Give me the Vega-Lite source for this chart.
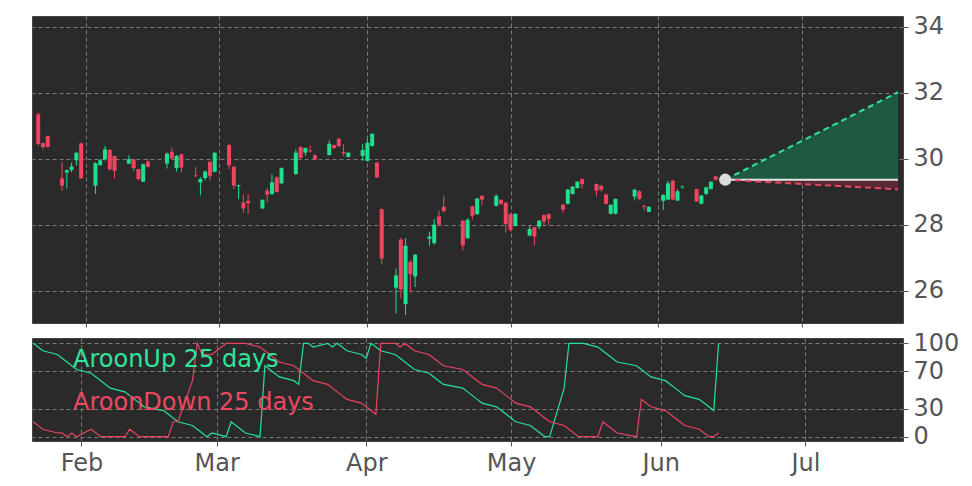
{
  "$schema": "https://vega.github.io/schema/vega-lite/v6.json",
  "background": "white",
  "padding": {"left": 31, "top": 14, "right": 0, "bottom": 0},
  "autosize": {"type": "pad"},
  "bounds": "flush",
  "spacing": 15,
  "config": {
    "view": {"fill": "#2a2a2a", "stroke": "#444", "strokeWidth": 1},
    "axis": {
      "labelFont": "DejaVu Sans", "labelFontSize": 24, "labelColor": "#555",
      "tickColor": "#555", "tickSize": 5, "domain": false, "labelOverlap": false,
      "gridColor": "#9a9a9a", "gridDash": [4, 3], "gridWidth": 0.8, "gridOpacity": 0.9
    }
  },
  "datasets": {
    "ohlc": [
      {"date": "2025-01-22", "o": 31.35, "h": 31.4, "l": 30.4, "c": 30.45},
      {"date": "2025-01-23", "o": 30.48, "h": 30.5, "l": 30.28, "c": 30.36},
      {"date": "2025-01-24", "o": 30.69, "h": 30.7, "l": 30.35, "c": 30.36},
      {"date": "2025-01-27", "o": 29.41, "h": 29.9, "l": 29.03, "c": 29.19},
      {"date": "2025-01-28", "o": 29.59, "h": 29.68, "l": 29.1, "c": 29.66},
      {"date": "2025-01-29", "o": 29.67, "h": 29.89, "l": 29.6, "c": 29.77},
      {"date": "2025-01-30", "o": 29.96, "h": 30.2, "l": 29.8, "c": 30.19},
      {"date": "2025-01-31", "o": 30.47, "h": 30.5, "l": 29.4, "c": 29.41},
      {"date": "2025-02-03", "o": 29.19, "h": 29.9, "l": 28.94, "c": 29.87},
      {"date": "2025-02-04", "o": 29.81, "h": 30.0, "l": 29.8, "c": 29.96},
      {"date": "2025-02-05", "o": 29.99, "h": 30.39, "l": 29.95, "c": 30.29},
      {"date": "2025-02-06", "o": 30.27, "h": 30.3, "l": 29.65, "c": 29.69},
      {"date": "2025-02-07", "o": 30.09, "h": 30.1, "l": 29.41, "c": 29.64},
      {"date": "2025-02-10", "o": 29.86, "h": 30.11, "l": 29.85, "c": 29.99},
      {"date": "2025-02-11", "o": 29.99, "h": 30.0, "l": 29.62, "c": 29.72},
      {"date": "2025-02-12", "o": 29.69, "h": 29.7, "l": 29.35, "c": 29.39},
      {"date": "2025-02-13", "o": 29.31, "h": 29.86, "l": 29.3, "c": 29.84},
      {"date": "2025-02-14", "o": 29.92, "h": 30.01, "l": 29.74, "c": 29.76},
      {"date": "2025-02-18", "o": 29.86, "h": 30.2, "l": 29.71, "c": 30.16},
      {"date": "2025-02-19", "o": 30.22, "h": 30.34, "l": 30.0, "c": 30.02},
      {"date": "2025-02-20", "o": 29.72, "h": 30.12, "l": 29.62, "c": 30.09},
      {"date": "2025-02-21", "o": 30.14, "h": 30.16, "l": 29.59, "c": 29.74},
      {"date": "2025-02-24", "o": 29.5, "h": 29.75, "l": 29.45, "c": 29.48},
      {"date": "2025-02-25", "o": 29.29, "h": 29.45, "l": 28.9, "c": 29.39},
      {"date": "2025-02-26", "o": 29.42, "h": 29.65, "l": 29.35, "c": 29.62},
      {"date": "2025-02-27", "o": 29.91, "h": 29.95, "l": 29.34, "c": 29.49},
      {"date": "2025-02-28", "o": 29.61, "h": 30.2, "l": 29.6, "c": 30.19},
      {"date": "2025-03-03", "o": 30.42, "h": 30.45, "l": 29.69, "c": 29.81},
      {"date": "2025-03-04", "o": 29.76, "h": 29.8, "l": 29.09, "c": 29.19},
      {"date": "2025-03-05", "o": 29.17, "h": 29.22, "l": 28.79, "c": 29.2},
      {"date": "2025-03-06", "o": 28.68, "h": 28.92, "l": 28.37, "c": 28.5},
      {"date": "2025-03-07", "o": 28.73, "h": 28.94, "l": 28.33, "c": 28.66},
      {"date": "2025-03-10", "o": 28.5, "h": 28.78, "l": 28.48, "c": 28.76},
      {"date": "2025-03-11", "o": 29.04, "h": 29.12, "l": 28.67, "c": 28.92},
      {"date": "2025-03-12", "o": 28.94, "h": 29.54, "l": 28.9, "c": 29.29},
      {"date": "2025-03-13", "o": 29.44, "h": 29.47, "l": 28.98, "c": 29.0},
      {"date": "2025-03-14", "o": 29.26, "h": 29.75, "l": 29.23, "c": 29.72},
      {"date": "2025-03-17", "o": 29.54, "h": 30.29, "l": 29.52, "c": 30.19},
      {"date": "2025-03-18", "o": 30.36, "h": 30.38, "l": 30.0, "c": 30.03},
      {"date": "2025-03-19", "o": 30.19, "h": 30.35, "l": 30.09, "c": 30.33},
      {"date": "2025-03-20", "o": 30.26, "h": 30.41, "l": 30.19, "c": 30.23},
      {"date": "2025-03-21", "o": 30.11, "h": 30.16, "l": 29.97, "c": 29.98},
      {"date": "2025-03-24", "o": 30.12, "h": 30.56, "l": 30.1, "c": 30.46},
      {"date": "2025-03-25", "o": 30.42, "h": 30.44, "l": 30.3, "c": 30.33},
      {"date": "2025-03-26", "o": 30.61, "h": 30.64, "l": 30.36, "c": 30.39},
      {"date": "2025-03-27", "o": 30.21, "h": 30.45, "l": 30.09, "c": 30.17},
      {"date": "2025-03-28", "o": 30.06, "h": 30.2, "l": 30.05, "c": 30.19},
      {"date": "2025-03-31", "o": 30.09, "h": 30.45, "l": 29.94, "c": 30.27},
      {"date": "2025-04-01", "o": 29.94, "h": 30.62, "l": 29.92, "c": 30.49},
      {"date": "2025-04-02", "o": 30.39, "h": 30.78, "l": 30.38, "c": 30.76},
      {"date": "2025-04-03", "o": 29.89, "h": 29.9, "l": 29.42, "c": 29.44},
      {"date": "2025-04-04", "o": 28.48, "h": 28.5, "l": 26.8, "c": 26.98},
      {"date": "2025-04-07", "o": 26.1, "h": 26.68, "l": 25.32, "c": 26.47},
      {"date": "2025-04-08", "o": 27.56, "h": 27.6, "l": 25.78, "c": 26.05},
      {"date": "2025-04-09", "o": 25.6, "h": 27.6, "l": 25.27, "c": 27.37},
      {"date": "2025-04-10", "o": 26.88, "h": 26.93, "l": 26.0, "c": 26.51},
      {"date": "2025-04-11", "o": 26.44, "h": 27.12, "l": 26.12, "c": 27.1},
      {"date": "2025-04-14", "o": 27.58, "h": 27.79, "l": 27.37, "c": 27.65},
      {"date": "2025-04-15", "o": 27.45, "h": 28.18, "l": 27.4, "c": 28.01},
      {"date": "2025-04-16", "o": 28.26, "h": 28.44, "l": 27.98, "c": 28.01},
      {"date": "2025-04-17", "o": 28.55, "h": 28.89, "l": 28.37, "c": 28.42},
      {"date": "2025-04-21", "o": 28.13, "h": 28.14, "l": 27.23, "c": 27.38},
      {"date": "2025-04-22", "o": 27.6, "h": 28.2, "l": 27.58, "c": 28.16},
      {"date": "2025-04-23", "o": 28.56, "h": 28.58, "l": 28.16, "c": 28.28},
      {"date": "2025-04-24", "o": 28.33, "h": 28.82, "l": 28.3, "c": 28.8},
      {"date": "2025-04-25", "o": 28.88, "h": 28.9, "l": 28.6, "c": 28.77},
      {"date": "2025-04-28", "o": 28.58, "h": 28.93, "l": 28.56, "c": 28.88},
      {"date": "2025-04-29", "o": 28.76, "h": 28.78, "l": 28.6, "c": 28.64},
      {"date": "2025-04-30", "o": 28.67, "h": 28.7, "l": 27.77, "c": 28.03},
      {"date": "2025-05-01", "o": 28.33, "h": 28.35, "l": 27.8, "c": 27.86},
      {"date": "2025-05-02", "o": 27.97, "h": 28.35, "l": 27.95, "c": 28.34},
      {"date": "2025-05-05", "o": 27.68, "h": 28.0, "l": 27.66, "c": 27.88},
      {"date": "2025-05-06", "o": 27.93, "h": 27.95, "l": 27.38, "c": 27.65},
      {"date": "2025-05-07", "o": 27.95, "h": 28.15, "l": 27.88, "c": 28.13},
      {"date": "2025-05-08", "o": 28.3, "h": 28.32, "l": 28.0, "c": 28.1},
      {"date": "2025-05-09", "o": 28.33, "h": 28.35, "l": 28.0, "c": 28.18},
      {"date": "2025-05-12", "o": 28.61, "h": 28.63, "l": 28.36, "c": 28.46},
      {"date": "2025-05-13", "o": 28.64, "h": 29.1, "l": 28.62, "c": 29.07},
      {"date": "2025-05-14", "o": 28.94, "h": 29.18, "l": 28.92, "c": 29.16},
      {"date": "2025-05-15", "o": 29.12, "h": 29.33, "l": 29.1, "c": 29.31},
      {"date": "2025-05-16", "o": 29.39, "h": 29.4, "l": 29.1, "c": 29.24},
      {"date": "2025-05-19", "o": 29.24, "h": 29.26, "l": 28.86, "c": 29.04},
      {"date": "2025-05-20", "o": 29.19, "h": 29.21, "l": 29.0, "c": 29.07},
      {"date": "2025-05-21", "o": 28.92, "h": 28.95, "l": 28.62, "c": 28.64},
      {"date": "2025-05-22", "o": 28.34, "h": 28.62, "l": 28.32, "c": 28.61},
      {"date": "2025-05-23", "o": 28.34, "h": 28.8, "l": 28.32, "c": 28.79},
      {"date": "2025-05-27", "o": 28.86, "h": 29.08, "l": 28.75, "c": 29.07},
      {"date": "2025-05-28", "o": 29.02, "h": 29.05, "l": 28.74, "c": 28.79},
      {"date": "2025-05-29", "o": 28.58, "h": 28.62, "l": 28.44, "c": 28.55},
      {"date": "2025-05-30", "o": 28.4, "h": 28.56, "l": 28.39, "c": 28.55},
      {"date": "2025-06-02", "o": 28.73, "h": 28.93, "l": 28.45, "c": 28.91},
      {"date": "2025-06-03", "o": 28.77, "h": 29.34, "l": 28.75, "c": 29.26},
      {"date": "2025-06-04", "o": 29.34, "h": 29.36, "l": 28.75, "c": 28.77},
      {"date": "2025-06-05", "o": 28.74, "h": 29.09, "l": 28.72, "c": 29.02},
      {"date": "2025-06-06", "o": 29.14, "h": 29.2, "l": 29.1, "c": 29.16},
      {"date": "2025-06-09", "o": 29.09, "h": 29.1, "l": 28.7, "c": 28.71},
      {"date": "2025-06-10", "o": 28.64, "h": 28.9, "l": 28.62, "c": 28.89},
      {"date": "2025-06-11", "o": 28.94, "h": 29.16, "l": 28.9, "c": 29.14},
      {"date": "2025-06-12", "o": 29.09, "h": 29.32, "l": 29.07, "c": 29.31},
      {"date": "2025-06-13", "o": 29.47, "h": 29.48, "l": 29.35, "c": 29.37}
    ],
    "aroon": [
      {"date": "2025-01-22", "up": 100, "down": 16},
      {"date": "2025-01-23", "up": 96, "down": 12},
      {"date": "2025-01-24", "up": 92, "down": 8},
      {"date": "2025-01-27", "up": 88, "down": 4},
      {"date": "2025-01-28", "up": 84, "down": 4},
      {"date": "2025-01-29", "up": 80, "down": 0},
      {"date": "2025-01-30", "up": 76, "down": 4},
      {"date": "2025-01-31", "up": 72, "down": 0},
      {"date": "2025-02-03", "up": 68, "down": 8},
      {"date": "2025-02-04", "up": 64, "down": 4},
      {"date": "2025-02-05", "up": 60, "down": 0},
      {"date": "2025-02-06", "up": 56, "down": 0},
      {"date": "2025-02-07", "up": 52, "down": 0},
      {"date": "2025-02-10", "up": 48, "down": 0},
      {"date": "2025-02-11", "up": 44, "down": 8},
      {"date": "2025-02-12", "up": 40, "down": 4},
      {"date": "2025-02-13", "up": 36, "down": 0},
      {"date": "2025-02-14", "up": 32, "down": 0},
      {"date": "2025-02-18", "up": 28, "down": 0},
      {"date": "2025-02-19", "up": 24, "down": 0},
      {"date": "2025-02-20", "up": 20, "down": 16},
      {"date": "2025-02-21", "up": 16, "down": 16},
      {"date": "2025-02-24", "up": 12, "down": 60},
      {"date": "2025-02-25", "up": 8, "down": 100},
      {"date": "2025-02-26", "up": 4, "down": 88},
      {"date": "2025-02-27", "up": 0, "down": 88},
      {"date": "2025-02-28", "up": 4, "down": 88},
      {"date": "2025-03-03", "up": 0, "down": 100},
      {"date": "2025-03-04", "up": 16, "down": 100},
      {"date": "2025-03-05", "up": 12, "down": 100},
      {"date": "2025-03-06", "up": 8, "down": 100},
      {"date": "2025-03-07", "up": 4, "down": 100},
      {"date": "2025-03-10", "up": 0, "down": 96},
      {"date": "2025-03-11", "up": 76, "down": 92},
      {"date": "2025-03-12", "up": 72, "down": 88},
      {"date": "2025-03-13", "up": 68, "down": 84},
      {"date": "2025-03-14", "up": 64, "down": 80},
      {"date": "2025-03-17", "up": 60, "down": 76},
      {"date": "2025-03-18", "up": 56, "down": 72},
      {"date": "2025-03-19", "up": 100, "down": 68},
      {"date": "2025-03-20", "up": 100, "down": 64},
      {"date": "2025-03-21", "up": 96, "down": 60},
      {"date": "2025-03-24", "up": 100, "down": 56},
      {"date": "2025-03-25", "up": 96, "down": 52},
      {"date": "2025-03-26", "up": 100, "down": 48},
      {"date": "2025-03-27", "up": 96, "down": 44},
      {"date": "2025-03-28", "up": 92, "down": 40},
      {"date": "2025-03-31", "up": 88, "down": 36},
      {"date": "2025-04-01", "up": 84, "down": 32},
      {"date": "2025-04-02", "up": 100, "down": 28},
      {"date": "2025-04-03", "up": 96, "down": 24},
      {"date": "2025-04-04", "up": 92, "down": 100},
      {"date": "2025-04-07", "up": 88, "down": 100},
      {"date": "2025-04-08", "up": 84, "down": 96},
      {"date": "2025-04-09", "up": 80, "down": 100},
      {"date": "2025-04-10", "up": 76, "down": 96},
      {"date": "2025-04-11", "up": 72, "down": 92},
      {"date": "2025-04-14", "up": 68, "down": 88},
      {"date": "2025-04-15", "up": 64, "down": 84},
      {"date": "2025-04-16", "up": 60, "down": 80},
      {"date": "2025-04-17", "up": 56, "down": 76},
      {"date": "2025-04-21", "up": 52, "down": 72},
      {"date": "2025-04-22", "up": 48, "down": 68},
      {"date": "2025-04-23", "up": 44, "down": 64},
      {"date": "2025-04-24", "up": 40, "down": 60},
      {"date": "2025-04-25", "up": 36, "down": 56},
      {"date": "2025-04-28", "up": 32, "down": 52},
      {"date": "2025-04-29", "up": 28, "down": 48},
      {"date": "2025-04-30", "up": 24, "down": 44},
      {"date": "2025-05-01", "up": 20, "down": 40},
      {"date": "2025-05-02", "up": 16, "down": 36},
      {"date": "2025-05-05", "up": 12, "down": 32},
      {"date": "2025-05-06", "up": 8, "down": 28},
      {"date": "2025-05-07", "up": 4, "down": 24},
      {"date": "2025-05-08", "up": 0, "down": 20},
      {"date": "2025-05-09", "up": 0, "down": 16},
      {"date": "2025-05-12", "up": 52, "down": 12},
      {"date": "2025-05-13", "up": 100, "down": 8},
      {"date": "2025-05-14", "up": 100, "down": 4},
      {"date": "2025-05-15", "up": 100, "down": 0},
      {"date": "2025-05-16", "up": 100, "down": 0},
      {"date": "2025-05-19", "up": 96, "down": 0},
      {"date": "2025-05-20", "up": 92, "down": 16},
      {"date": "2025-05-21", "up": 88, "down": 12},
      {"date": "2025-05-22", "up": 84, "down": 8},
      {"date": "2025-05-23", "up": 80, "down": 4},
      {"date": "2025-05-27", "up": 76, "down": 0},
      {"date": "2025-05-28", "up": 72, "down": 40},
      {"date": "2025-05-29", "up": 68, "down": 36},
      {"date": "2025-05-30", "up": 64, "down": 32},
      {"date": "2025-06-02", "up": 60, "down": 28},
      {"date": "2025-06-03", "up": 56, "down": 24},
      {"date": "2025-06-04", "up": 52, "down": 20},
      {"date": "2025-06-05", "up": 48, "down": 16},
      {"date": "2025-06-06", "up": 44, "down": 12},
      {"date": "2025-06-09", "up": 40, "down": 8},
      {"date": "2025-06-10", "up": 36, "down": 4},
      {"date": "2025-06-11", "up": 32, "down": 0},
      {"date": "2025-06-12", "up": 28, "down": 0},
      {"date": "2025-06-13", "up": 100, "down": 4}
    ],
    "pred": [
      {"date": "2025-06-15T00:00:00Z", "up": 29.37, "down": 29.37, "base": 29.37},
      {"date": "2025-07-21T05:00:00Z", "up": 32.02, "down": 29.08, "base": 29.37}
    ],
    "labels": [
      {"date": "2025-01-30T06:00:00Z", "v": 74.3, "text": "AroonUp 25 days", "kind": "up"},
      {"date": "2025-01-30T06:00:00Z", "v": 28.6, "text": "AroonDown 25 days", "kind": "down"}
    ]
  },
  "vconcat": [
    {
      "width": 871,
      "height": 307,
      "encoding": {
        "x": {
          "field": "date", "type": "temporal", "title": null,
          "scale": {"type": "utc", "domain": ["2025-01-21T18:00:00Z", "2025-07-21T05:00:00Z"]},
          "axis": {"labels": false, "ticks": true, "tickSize": 4, "grid": true, "tickCount": {"interval": "month", "step": 1}}
        }
      },
      "layer": [
        {
          "data": {"name": "pred"},
          "mark": {"type": "area", "color": "#1e5a3f", "opacity": 1, "clip": true},
          "encoding": {
            "y": {
              "field": "up", "type": "quantitative", "title": null,
              "scale": {"domain": [25.03, 34.33], "nice": false, "zero": false},
              "axis": {"orient": "right", "values": [26, 28, 30, 32, 34], "tickCount": 20, "format": "d", "grid": true, "labelPadding": 5}
            },
            "y2": {"field": "base"}
          }
        },
        {
          "data": {"name": "pred"},
          "mark": {"type": "area", "color": "#5a2a34", "opacity": 1, "clip": true},
          "encoding": {
            "y": {"field": "base", "type": "quantitative", "title": null},
            "y2": {"field": "down"}
          }
        },
        {
          "data": {"name": "ohlc"},
          "mark": {"type": "rule", "strokeWidth": 1, "clip": true},
          "encoding": {
            "y": {"field": "l", "type": "quantitative", "title": null},
            "y2": {"field": "h"},
            "color": {"condition": {"test": "datum.c >= datum.o", "value": "#1fe08f"}, "value": "#ef4560"}
          }
        },
        {
          "data": {"name": "ohlc"},
          "mark": {"type": "bar", "size": 4, "clip": true},
          "encoding": {
            "y": {"field": "o", "type": "quantitative", "title": null},
            "y2": {"field": "c"},
            "color": {"condition": {"test": "datum.c >= datum.o", "value": "#1fe08f"}, "value": "#ef4560"}
          }
        },
        {
          "data": {"name": "pred"},
          "mark": {"type": "line", "color": "#e6e6e6", "strokeWidth": 2, "clip": true},
          "encoding": {"y": {"field": "base", "type": "quantitative", "title": null}}
        },
        {
          "data": {"name": "pred"},
          "mark": {"type": "line", "color": "#2ee39a", "strokeWidth": 2, "strokeDash": [6, 4], "clip": true},
          "encoding": {"y": {"field": "up", "type": "quantitative", "title": null}}
        },
        {
          "data": {"name": "pred"},
          "mark": {"type": "line", "color": "#ea4862", "strokeWidth": 2, "strokeDash": [6, 4], "clip": true},
          "encoding": {"y": {"field": "down", "type": "quantitative", "title": null}}
        },
        {
          "data": {"name": "pred"},
          "transform": [{"filter": "datum.up == datum.base"}],
          "mark": {"type": "point", "filled": true, "color": "#dcdcdc", "size": 150, "opacity": 1},
          "encoding": {"y": {"field": "base", "type": "quantitative", "title": null}}
        }
      ]
    },
    {
      "width": 871,
      "height": 103,
      "encoding": {
        "x": {
          "field": "date", "type": "temporal", "title": null,
          "scale": {"type": "utc", "domain": ["2025-01-21T18:00:00Z", "2025-07-21T05:00:00Z"]},
          "axis": {"format": "%b", "grid": true, "tickSize": 5, "labelPadding": 5, "tickCount": {"interval": "month", "step": 1}}
        }
      },
      "layer": [
        {
          "data": {"name": "aroon"},
          "mark": {"type": "line", "color": "#25e296", "strokeWidth": 1.2, "clip": true},
          "encoding": {
            "y": {
              "field": "up", "type": "quantitative", "title": null,
              "scale": {"domain": [-4.6, 105.7], "nice": false, "zero": false},
              "axis": {"orient": "right", "values": [0, 30, 70, 100], "tickCount": 20, "format": "d", "grid": true, "labelPadding": 5}
            }
          }
        },
        {
          "data": {"name": "aroon"},
          "mark": {"type": "line", "color": "#e8445e", "strokeWidth": 1.2, "clip": true},
          "encoding": {"y": {"field": "down", "type": "quantitative", "title": null}}
        },
        {
          "data": {"name": "labels"},
          "mark": {"type": "text", "align": "left", "baseline": "alphabetic", "font": "DejaVu Sans", "fontSize": 24},
          "encoding": {
            "y": {"field": "v", "type": "quantitative", "title": null},
            "text": {"field": "text"},
            "color": {"condition": {"test": "datum.kind == 'up'", "value": "#2ee69e"}, "value": "#ec4862"}
          }
        }
      ]
    }
  ]
}
